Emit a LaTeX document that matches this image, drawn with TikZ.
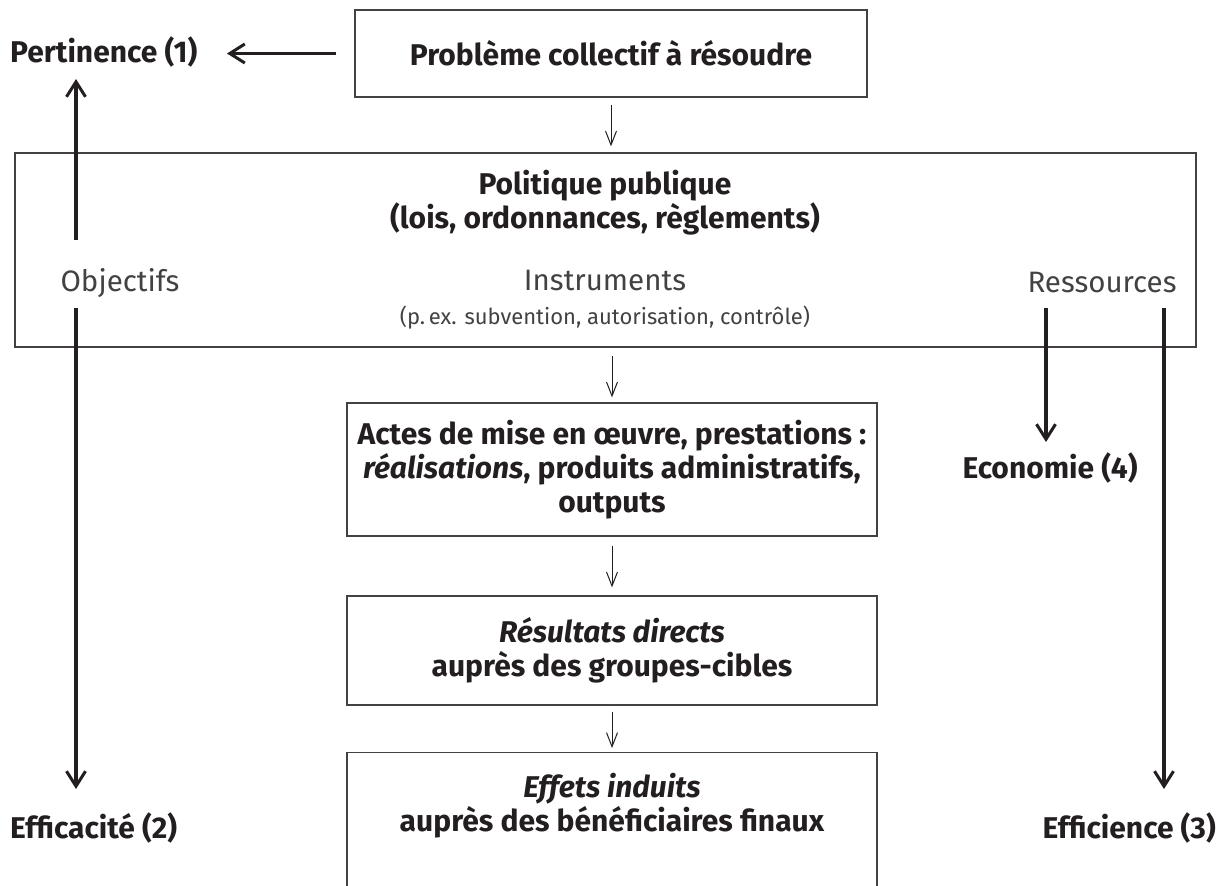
\documentclass[tikz,border=0pt]{standalone}
\usepackage{fontspec}
\setmainfont{Fira Sans}
\usetikzlibrary{arrows.meta}
\definecolor{ink}{HTML}{231F20}
\begin{document}
\begin{tikzpicture}[x=1pt,y=-1pt,
  box/.style={draw=ink!85, line width=1.3pt, inner sep=0pt},
  bl/.style={font=\fontsize{30}{34}\selectfont\bfseries, align=center, text=ink, inner sep=0pt},
  rg/.style={font=\fontsize{29.5}{34}\selectfont, align=center, text=ink!85, inner sep=0pt},
  sm/.style={font=\fontsize{22}{26}\selectfont, align=center, text=ink!85, inner sep=0pt},
  flow/.style={draw=ink, line width=1pt, -{Straight Barb[length=14pt,width=11pt,line width=1pt]}},
  big/.style={draw=ink, line width=3.2pt, -{Straight Barb[length=15pt,width=19pt,line width=3pt]}}]
\fill[white] (0,0) rectangle (1226,886);
\clip (0,0) rectangle (1226,886);
% boxes
\node[box, minimum width=512pt, minimum height=87pt, bl] (prob) at (611,53.5) {Problème collectif à résoudre};
\node[box, minimum width=1181pt, minimum height=194pt] (pol) at (605.5,250) {};
\node[bl] (poltxt) at (605,203) {Politique publique\\(lois, ordonnances, règlements)};
\node[rg] (obj) at (120,283) {Objectifs};
\node[rg] (instr) at (605,281) {Instruments};
\node[sm] (ex) at (605,318) {(p.\,ex. subvention, autorisation, contrôle)};
\node[rg] (res) at (1102,283) {Ressources};
\node[box, minimum width=530pt, minimum height=133pt, bl] (actes) at (612,469.5) {Actes de mise en œuvre, prestations~:\\\textit{réalisations}, produits administratifs,\\outputs};
\node[box, minimum width=530pt, minimum height=109pt, bl] (resu) at (612,650.5) {\textit{Résultats directs}\\auprès des groupes-cibles};
\node[box, minimum width=530pt, minimum height=180pt, anchor=north] (eff) at (612,752) {};
\node[bl] (efftxt) at (612,806) {\textit{Effets induits}\\auprès des bénéficiaires finaux};
% criteria labels
\node[bl, anchor=west] (pert) at (10,52) {Pertinence (1)};
\node[bl, anchor=west] (effic) at (10,828) {Efficacité (2)};
\node[bl] (eco) at (1050,468) {Economie (4)};
\node[bl, anchor=east] (effi) at (1216,828) {Efficience (3)};
% flow arrows
\draw[flow, shorten <=7pt, shorten >=6pt] (prob.south) -- (prob.south |- pol.north);
\draw[flow, shorten <=8pt, shorten >=5pt] (actes.north |- pol.south) -- (actes.north);
\draw[flow, shorten <=9pt, shorten >=8pt] (actes.south) -- (resu.north);
\draw[flow, shorten <=6pt, shorten >=4pt] (resu.south) -- (eff.north);
% evaluation arrows
\coordinate (objtop) at (76,240);
\coordinate (pertfoot) at (76,79);
\coordinate (objbot) at (76,308);
\coordinate (effictop) at (76,789);
\coordinate (resa) at (1046,308);
\coordinate (ecotop) at (1046,442);
\coordinate (resb) at (1164,308);
\coordinate (effitop) at (1164,789);
\draw[big, shorten <=18pt] (prob.west) -- (prob.west -| 227,0);
\draw[big] (objtop) -- (pertfoot);
\draw[big] (objbot) -- (effictop);
\draw[big] (resa) -- (ecotop);
\draw[big] (resb) -- (effitop);
\end{tikzpicture}
\end{document}
